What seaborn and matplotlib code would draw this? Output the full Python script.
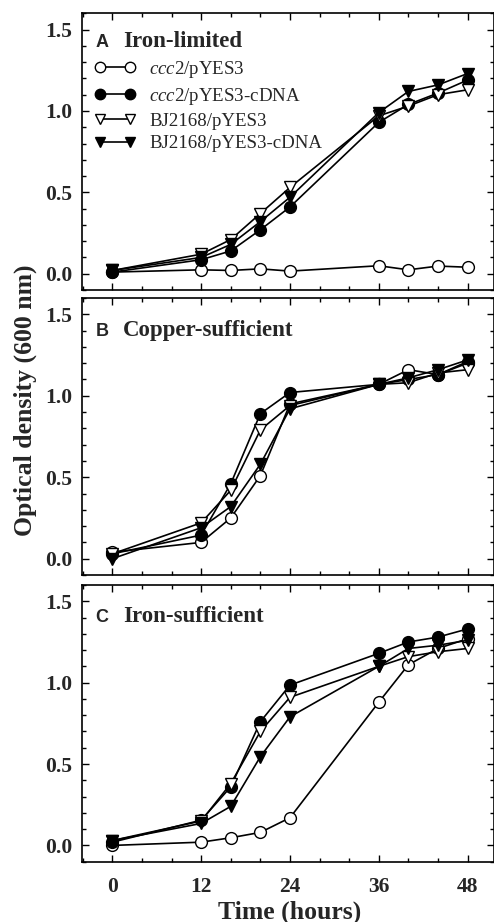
import numpy as np
import pandas as pd
import matplotlib
matplotlib.use("Agg")
import matplotlib.pyplot as plt
from matplotlib.ticker import MultipleLocator
import seaborn as sns

# ---------------- data ----------------
time_h = [0, 12, 16, 20, 24, 36, 40, 44, 48]

series_labels = [r"$\mathit{ccc2}$/pYES3", r"$\mathit{ccc2}$/pYES3-cDNA",
                 "BJ2168/pYES3", "BJ2168/pYES3-cDNA"]

panel_letters = ["A", "B", "C"]
panel_titles = ["Iron-limited", "Copper-sufficient", "Iron-sufficient"]

# Panel A: iron-limited
a_ccc2_vec = [0.01, 0.024, 0.02, 0.03, 0.016, 0.049, 0.024, 0.047, 0.04]
a_ccc2_cdna = [0.01, 0.086, 0.14, 0.27, 0.41, 0.93, 1.04, 1.11, 1.19]
a_bj_vec = [0.02, 0.12, 0.21, 0.37, 0.53, 0.97, 1.03, 1.10, 1.13]
a_bj_cdna = [0.02, 0.10, 0.18, 0.32, 0.47, 0.99, 1.12, 1.16, 1.23]

# Panel B: copper-sufficient
b_ccc2_vec = [0.04, 0.10, 0.25, 0.51, 0.95, 1.07, 1.16, 1.13, 1.20]
b_ccc2_cdna = [0.03, 0.145, 0.46, 0.89, 1.02, 1.07, 1.10, 1.13, 1.21]
b_bj_vec = [0.03, 0.22, 0.42, 0.79, 0.94, 1.07, 1.08, 1.14, 1.16]
b_bj_cdna = [0.00, 0.19, 0.32, 0.58, 0.92, 1.07, 1.11, 1.16, 1.22]

# Panel C: iron-sufficient
c_ccc2_vec = [0.00, 0.02, 0.047, 0.08, 0.17, 0.88, 1.11, 1.21, 1.27]
c_ccc2_cdna = [0.02, 0.155, 0.36, 0.76, 0.985, 1.18, 1.25, 1.28, 1.33]
c_bj_vec = [0.03, 0.15, 0.38, 0.70, 0.91, 1.10, 1.16, 1.19, 1.21]
c_bj_cdna = [0.03, 0.135, 0.24, 0.545, 0.79, 1.10, 1.21, 1.23, 1.26]

panels = [
    [a_ccc2_vec, a_ccc2_cdna, a_bj_vec, a_bj_cdna],
    [b_ccc2_vec, b_ccc2_cdna, b_bj_vec, b_bj_cdna],
    [c_ccc2_vec, c_ccc2_cdna, c_bj_vec, c_bj_cdna],
]

x_ticks = [0, 12, 24, 36, 48]
y_ticks = [0.0, 0.5, 1.0, 1.5]

# ---------------- style ----------------
sns.set_theme(style="white")
plt.rcParams["font.family"] = ["Liberation Serif", "DejaVu Serif"]
plt.rcParams["mathtext.fontset"] = "custom"
plt.rcParams["mathtext.rm"] = "Liberation Serif"
plt.rcParams["mathtext.it"] = "Liberation Serif:italic"
plt.rcParams["axes.linewidth"] = 1.2
plt.rcParams["axes.edgecolor"] = "black"

markers = ["o", "o", "v", "v"]
faces = ["white", "black", "white", "black"]

fig = plt.figure(figsize=(4.94, 9.22), dpi=100)
W, H = 494.0, 922.0
left_px, right_px = 82.0, 493.5
boxes = [(13.3, 290.0), (298.0, 575.0), (585.0, 861.7)]
title_base = [46.7, 335.7, 621.7]

axes = []
for i, (top, bot) in enumerate(boxes):
    ax = fig.add_axes([left_px / W, 1 - bot / H, (right_px - left_px) / W, (bot - top) / H])
    axes.append(ax)
    data = panels[i]
    for k in range(4):
        df = pd.DataFrame({"t": time_h, "od": data[k]})
        sns.lineplot(data=df, x="t", y="od", ax=ax, color="black", lw=1.2,
                     marker=markers[k], markersize=8.5, markerfacecolor=faces[k],
                     markeredgecolor="black", markeredgewidth=1.0,
                     label=series_labels[k], legend=False, zorder=3 + k)
    ax.set_xlim(-4.1, 51.5)
    ax.set_ylim(-0.1, 1.6)
    ax.xaxis.set_major_locator(MultipleLocator(12))
    ax.xaxis.set_minor_locator(MultipleLocator(4))
    ax.yaxis.set_major_locator(MultipleLocator(0.5))
    ax.yaxis.set_minor_locator(MultipleLocator(0.1))
    ax.set_yticks(y_ticks)
    ax.set_yticklabels([f"{v:.1f}" for v in y_ticks], fontsize=15.5, fontweight="bold")
    ax.set_xticks(x_ticks)
    ax.tick_params(axis="both", which="both", direction="in", top=True, right=True,
                   bottom=True, left=True, color="black", width=1.0)
    ax.tick_params(which="major", length=5)
    ax.tick_params(which="minor", length=3)
    ax.tick_params(axis="y", pad=7)
    if i < 2:
        ax.set_xticklabels([])
    else:
        ax.set_xticklabels([str(v) for v in x_ticks], fontsize=15.5, fontweight="bold")
        ax.tick_params(axis="x", pad=11)
    ax.set_xlabel("")
    ax.set_ylabel("")
    for s in ax.spines.values():
        s.set_visible(True)
        s.set_color("black")
        s.set_linewidth(1.2)
    yb = (bot - title_base[i]) / (bot - top)
    ax.text((95.7 - left_px) / (right_px - left_px), yb, panel_letters[i],
            transform=ax.transAxes, fontsize=13, fontweight="bold",
            family=["Liberation Sans", "DejaVu Sans"], va="baseline", ha="left")
    ax.text((123.3 - left_px) / (right_px - left_px), yb, panel_titles[i],
            transform=ax.transAxes, fontsize=16.5, fontweight="bold",
            va="baseline", ha="left")

# legend in panel A
leg = axes[0].legend(loc="upper left", bbox_to_anchor=((94.3 - left_px) / (right_px - left_px), 0.835),
                     frameon=False, numpoints=2, handlelength=2.2, handletextpad=0.7,
                     labelspacing=0.3, borderpad=0, borderaxespad=0,
                     prop={"family": "Liberation Serif", "size": 13.6})
for h in leg.legend_handles:
    h.set_markersize(7.5)

fig.text(25 / W, 1 - 400 / H, "Optical density (600 nm)", rotation=90,
         ha="center", va="center", fontsize=18.5, fontweight="bold")
fig.text((112.3 + 467.7) / 2 / W, 1 - 912 / H, "Time (hours)",
         ha="center", va="center", fontsize=18.5, fontweight="bold")

fig.savefig("out.png", dpi=100)
